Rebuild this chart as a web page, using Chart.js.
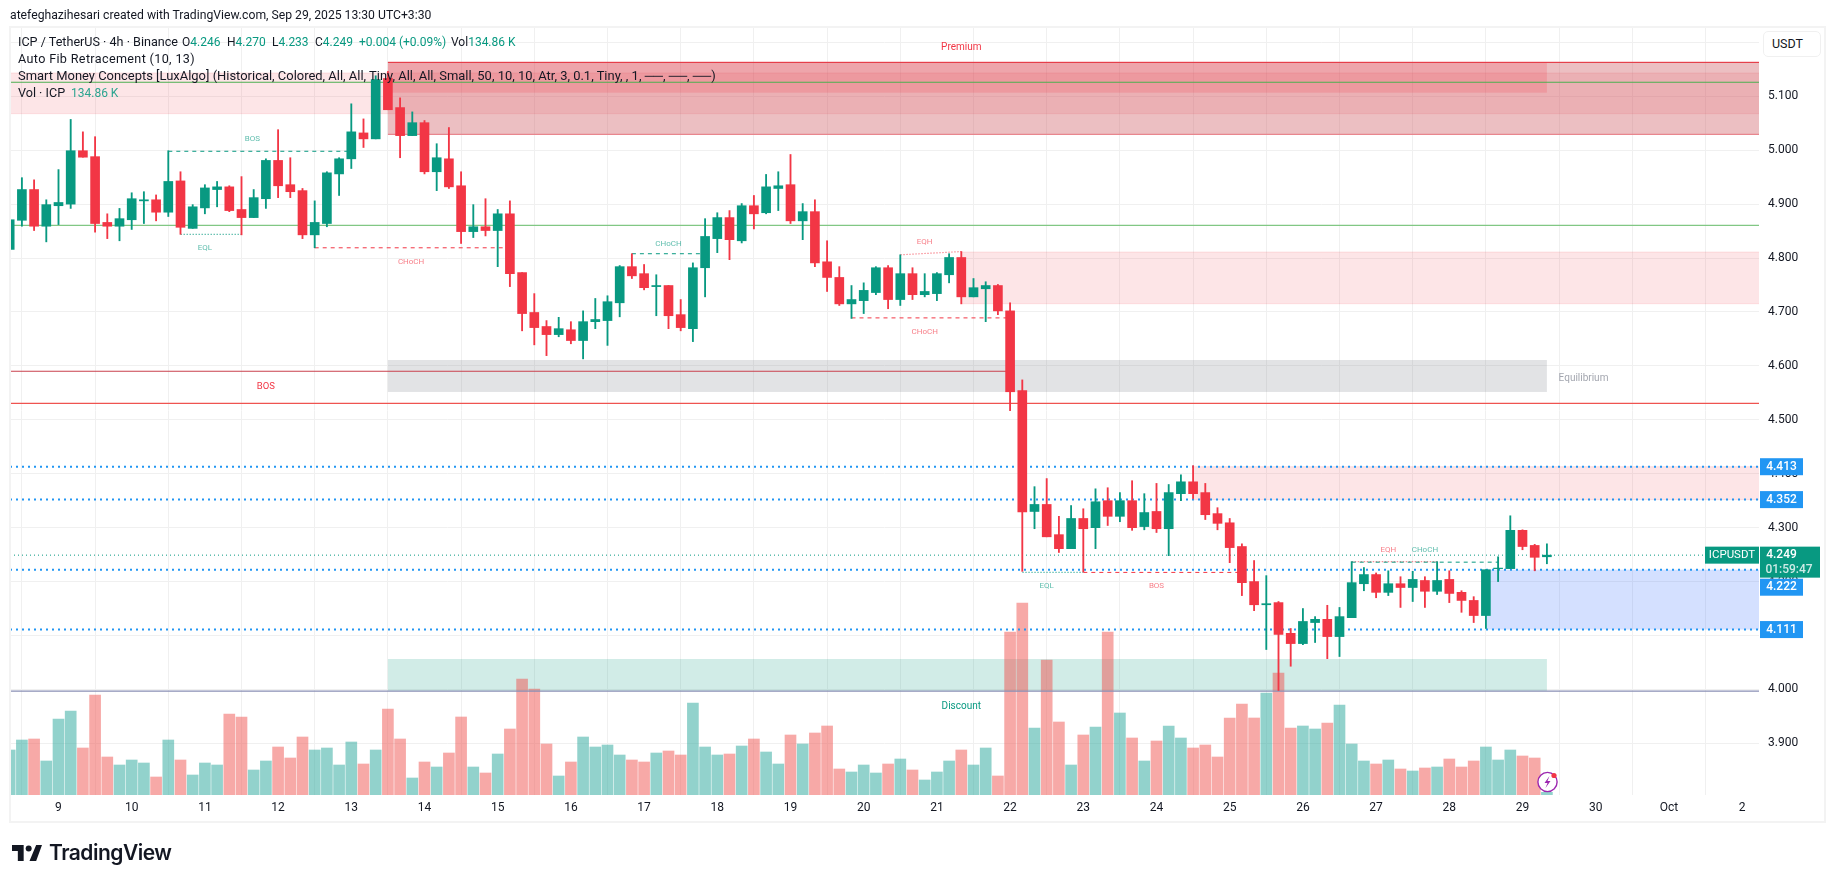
<!DOCTYPE html>
<html><head><meta charset="utf-8">
<style>
html,body{margin:0;padding:0;background:#fff;width:1835px;height:883px;overflow:hidden}
#wrap{position:relative;width:1835px;height:883px}
canvas{position:absolute;left:0;top:0}
.t{position:absolute;white-space:pre;font-family:Roboto,sans-serif;font-size:12.6px;color:#131722;line-height:16px}
.n{font-size:12px}
.g{color:#089981}
#pane{position:absolute;left:9px;top:26px;width:1817px;height:797px;box-sizing:border-box;border:2px solid #f3f3f3;pointer-events:none}
#usdt{position:absolute;left:1763px;top:31px;width:58px;height:26px;box-sizing:border-box;border:1.5px solid #f0f0f0;border-radius:5px;background:#fff;font:12.5px/24px Roboto,sans-serif;color:#131722;padding-left:8px}
</style>
<script src="https://cdn.jsdelivr.net/npm/chart.js@4"></script></head>
<body><div id="wrap">
<canvas id="c" width="1835" height="883"></canvas>
<div id="pane"></div>
<div id="usdt">USDT</div>
<div class="t" style="left:10px;top:7px;font-size:12.2px">atefeghazihesari created with TradingView.com, Sep 29, 2025 13:30 UTC+3:30</div>
<div class="t" style="left:18px;top:34px">ICP / TetherUS · 4h · Binance</div>
<div class="t n" style="left:182px;top:34px">O<span class="g">4.246</span></div>
<div class="t n" style="left:227px;top:34px">H<span class="g">4.270</span></div>
<div class="t n" style="left:272px;top:34px">L<span class="g">4.233</span></div>
<div class="t n" style="left:315px;top:34px">C<span class="g">4.249</span></div>
<div class="t n g" style="left:359px;top:34px">+0.004 (+0.09%)</div>
<div class="t n" style="left:451px;top:34px">Vol<span class="g">134.86 K</span></div>
<div class="t" style="left:18px;top:51px;letter-spacing:.35px">Auto Fib Retracement (10, 13)</div>
<div class="t" style="left:18px;top:68px;font-size:12.95px">Smart Money Concepts [LuxAlgo] (Historical, Colored, All, All, Tiny, All, All, Small, 50, 10, 10, Atr, 3, 0.1, Tiny, , 1, ──, ──, ──)</div>
<div class="t" style="left:18px;top:85px">Vol · ICP</div>
<div class="t n g" style="left:71px;top:85px;opacity:.85">134.86 K</div>
<svg style="position:absolute;left:12px;top:845px" width="30" height="16" viewBox="0 0 36 19"><path fill="#131722" d="M14 0H0v7h7v12h7V0zM29 19h-8L29 0h7l-7 19z"/><circle cx="20" cy="4" r="3.6" fill="#131722"/></svg>
<div style="position:absolute;left:49px;top:841px;font:600 21px/24px Inter,Roboto,sans-serif;color:#131722;letter-spacing:-.5px">TradingView</div>
<svg style="position:absolute;left:1536px;top:770px" width="24" height="24" viewBox="0 0 24 24"><circle cx="11.5" cy="12" r="9.6" fill="#fff" stroke="#9c27b0" stroke-width="1.4"/><path fill="#9c27b0" d="M13.5 6l-5 7h3l-2 5 5-7h-3z"/><circle cx="18" cy="5.5" r="2.6" fill="#f23645"/></svg>
</div>
<script>
const firstBar=-4;
const opens=[4.816,4.870,4.927,4.859,4.897,4.900,4.999,4.988,4.866,4.859,4.871,4.906,4.908,4.885,4.943,4.855,4.893,4.927,4.932,4.890,4.875,4.910,4.981,4.936,4.925,4.843,4.864,4.956,4.984,5.032,5.021,5.133,5.079,5.027,5.051,4.960,4.984,4.934,4.849,4.858,4.851,4.882,4.773,4.699,4.673,4.658,4.667,4.647,4.682,4.684,4.717,4.784,4.771,4.747,4.749,4.695,4.669,4.782,4.836,4.875,4.832,4.897,4.884,4.929,4.936,4.869,4.886,4.793,4.764,4.715,4.721,4.736,4.782,4.723,4.771,4.732,4.734,4.769,4.801,4.728,4.743,4.749,4.702,4.554,4.330,4.343,4.287,4.261,4.317,4.300,4.350,4.321,4.350,4.302,4.330,4.298,4.363,4.385,4.365,4.326,4.309,4.265,4.200,4.157,4.161,4.104,4.085,4.124,4.130,4.098,4.133,4.196,4.213,4.180,4.196,4.189,4.202,4.182,4.204,4.180,4.165,4.137,4.224,4.224,4.295,4.267,4.246];
const highs=[4.871,4.949,4.945,4.908,4.964,5.057,5.034,5.025,4.882,4.892,4.921,4.923,4.917,4.999,4.960,4.899,4.936,4.942,4.934,4.951,4.927,4.984,5.038,4.986,4.929,4.906,4.960,4.986,5.086,5.058,5.138,5.146,5.097,5.071,5.055,5.012,5.042,4.960,4.899,4.910,4.890,4.906,4.773,4.734,4.684,4.690,4.682,4.702,4.725,4.730,4.786,4.808,4.788,4.769,4.749,4.723,4.791,4.873,4.884,4.888,4.901,4.916,4.955,4.960,4.992,4.901,4.908,4.832,4.784,4.749,4.754,4.784,4.786,4.806,4.782,4.771,4.773,4.808,4.812,4.762,4.756,4.751,4.717,4.574,4.376,4.391,4.321,4.341,4.335,4.372,4.374,4.365,4.387,4.363,4.382,4.380,4.398,4.415,4.382,4.337,4.317,4.270,4.239,4.211,4.163,4.113,4.150,4.135,4.156,4.152,4.237,4.226,4.216,4.220,4.209,4.219,4.209,4.237,4.220,4.183,4.172,4.222,4.246,4.322,4.296,4.269,4.270];
const lows=[4.816,4.859,4.851,4.830,4.862,4.892,4.987,4.848,4.836,4.832,4.853,4.864,4.869,4.877,4.844,4.855,4.882,4.895,4.886,4.843,4.875,4.892,4.912,4.912,4.836,4.819,4.858,4.916,4.966,5.005,5.021,5.075,4.986,5.027,4.956,4.925,4.929,4.827,4.838,4.841,4.784,4.747,4.665,4.639,4.619,4.654,4.641,4.613,4.669,4.638,4.691,4.762,4.741,4.693,4.669,4.665,4.645,4.728,4.810,4.797,4.828,4.854,4.882,4.888,4.864,4.834,4.784,4.738,4.712,4.688,4.697,4.732,4.706,4.712,4.723,4.728,4.721,4.754,4.715,4.728,4.682,4.695,4.517,4.219,4.298,4.283,4.254,4.261,4.218,4.261,4.304,4.311,4.295,4.296,4.291,4.248,4.350,4.354,4.315,4.296,4.235,4.174,4.146,4.074,3.998,4.043,4.083,4.087,4.057,4.061,4.133,4.183,4.170,4.174,4.152,4.163,4.152,4.176,4.161,4.143,4.124,4.113,4.200,4.224,4.259,4.220,4.233];
const closes=[4.871,4.927,4.859,4.899,4.903,4.999,4.987,4.864,4.859,4.873,4.910,4.908,4.885,4.942,4.857,4.895,4.930,4.932,4.888,4.875,4.912,4.981,4.934,4.923,4.843,4.866,4.958,4.984,5.034,5.021,5.131,5.075,5.027,5.051,4.960,4.986,4.932,4.849,4.858,4.851,4.882,4.771,4.697,4.671,4.658,4.669,4.647,4.682,4.686,4.719,4.784,4.767,4.745,4.749,4.693,4.671,4.782,4.840,4.875,4.834,4.897,4.882,4.932,4.934,4.869,4.886,4.791,4.764,4.715,4.723,4.740,4.782,4.723,4.771,4.732,4.738,4.771,4.801,4.728,4.745,4.749,4.702,4.552,4.329,4.343,4.283,4.261,4.317,4.298,4.348,4.321,4.350,4.300,4.328,4.298,4.365,4.385,4.363,4.324,4.308,4.263,4.198,4.157,4.159,4.102,4.085,4.126,4.130,4.098,4.135,4.198,4.213,4.180,4.196,4.189,4.204,4.182,4.202,4.178,4.165,4.137,4.222,4.225,4.295,4.265,4.245,4.249];
const volumesK=[2250,2750,2800,1700,3800,4200,2350,5000,1900,1500,1750,1600,900,2750,1750,1000,1600,1500,4050,3900,1250,1700,2400,1850,2900,2250,2350,1500,2650,1550,2250,4300,2800,850,1650,1400,2100,3900,1400,1100,2050,3300,5800,5300,2550,950,1650,2900,2400,2500,2000,1750,1650,2100,2200,2000,4600,2400,2000,2050,2450,2800,2150,1550,3000,2550,3100,3450,1300,1150,1500,1100,1550,1800,1250,750,1150,1700,2250,1500,2350,950,8150,9600,3350,6750,3650,1500,3000,3400,8150,4100,2850,1700,2700,3450,2850,2350,2500,1900,3850,4550,3850,5100,6100,3350,3450,3300,3600,4500,2550,1700,1550,1750,1300,1200,1350,1400,1800,1400,1700,2400,1750,2250,1950,1850,134.86];
const priceTicks=[3.9,4.0,4.1,4.2,4.3,4.4,4.5,4.6,4.7,4.8,4.9,5.0,5.1,5.2];
const dayBars=[0,6,12,18,24,30,36,42,48,54,60,66,72,78,84,90,96,102,108,114,120,126,132,138];
const dayLabels=['9','10','11','12','13','14','15','16','17','18','19','20','21','22','23','24','25','26','27','28','29','30','Oct','2'];
const fibLevels=[4.413,4.352,4.222,4.111];
const lastPrice=4.249;
const xMin=-3.975,xMax=139.385,yMin=3.8042,yMax=5.2303,volMax=38450;

// zones: start bar, end bar, top price, bottom price
const zoneStart=[xMin,27,27,74,93,117,27,27];
const zoneEnd=[xMax,xMax,122,xMax,xMax,xMax,122,122];
const zoneTop=[5.1432,5.163,5.163,4.8112,4.413,4.222,4.6109,4.0564];
const zoneBottom=[5.0677,5.0295,5.1066,4.7153,4.352,4.111,4.5516,3.997];
const zoneFill=['rgba(242,54,69,.13)','rgba(208,95,102,.4)','rgba(242,54,69,.19)','rgba(242,54,69,.13)','rgba(242,54,69,.13)','rgba(41,98,255,.2)','rgba(120,123,134,.21)','rgba(8,153,129,.19)'];

// structure lines
const solidPrice=[5.126,4.8607,4.59,4.5306,3.997];
const solidStart=[xMin,xMin,xMin,xMin,xMin];
const solidEnd=[xMax,xMax,78,xMax,xMax];
const solidColor=['#4caf50','#81c784','#c9404c','#ef5350','#8a8fb5'];
const dashStart=[9,21,47,65,84,106];
const dashEnd=[24,37,53,78,97,118];
const dashPrice=[4.998,4.819,4.808,4.689,4.217,4.236];
const dashColor=['#089981','#f23645','#089981','#f23645','#f23645','#089981'];
const eqStart=[10,69,79,106];
const eqEnd=[15,74,84,113];
const eqPriceA=[4.844,4.806,4.217,4.237];
const eqPriceB=[4.844,4.812,4.217,4.237];
const eqColor=['rgba(8,153,129,.6)','rgba(242,54,69,.55)','rgba(8,153,129,.6)','rgba(242,54,69,.55)'];

// chart text
const noteText=['BOS','EQL','CHoCH','CHoCH','EQH','CHoCH','Premium','EQL','BOS','EQH','CHoCH','Discount','Equilibrium','BOS'];
const noteBar=[15.9,12,28.9,50,71,71,74,81,90,109,112,74,125,17];
const notePrice=[5.020,4.819,4.793,4.826,4.830,4.663,5.190,4.192,4.192,4.258,4.258,3.968,4.577,4.561];
const noteColor=['rgba(8,153,129,.65)','rgba(8,153,129,.65)','rgba(242,54,69,.65)','rgba(8,153,129,.65)','rgba(242,54,69,.65)','rgba(242,54,69,.65)','#f23645','rgba(8,153,129,.65)','rgba(242,54,69,.65)','rgba(242,54,69,.65)','rgba(8,153,129,.65)','#089981','#a3a6af','#f23645'];
const noteSize=[8,8,8,8,8,8,10,8,8,8,8,10,10,9.5];

const GREEN='#089981',RED='#f23645',BLUE='#2196f3';
const barIdx=opens.map((_,i)=>i+firstBar);
const up=opens.map((o,i)=>closes[i]>=o);
const line=(a,b,pa,pb,color,width,dash,order)=>({type:'line',data:[{x:a,y:pa},{x:b,y:pb}],borderColor:color,borderWidth:width,borderDash:dash||[],pointRadius:0,tension:0,order,xAxisID:'x',yAxisID:'y',parsing:true});
const datasets=[];
datasets.push({type:'bar',yAxisID:'y',xAxisID:'x',order:1,grouped:false,barThickness:9,borderWidth:0,
  data:barIdx.map((x,i)=>({x,y:[opens[i],closes[i]]})),backgroundColor:up.map(u=>u?GREEN:RED)});
datasets.push({type:'bar',yAxisID:'y',xAxisID:'x',order:2,grouped:false,barThickness:1.2,borderWidth:0,
  data:barIdx.map((x,i)=>({x,y:[lows[i],highs[i]]})),backgroundColor:up.map(u=>u?GREEN:RED)});
fibLevels.forEach(p=>datasets.push(line(xMin,xMax,p,p,BLUE,2,[2,4],3)));
datasets.push(line(xMin,xMax,lastPrice,lastPrice,GREEN,1,[1,3],3));
solidPrice.forEach((p,i)=>datasets.push(line(solidStart[i],solidEnd[i],p,p,solidColor[i],1.2,[],4)));
dashPrice.forEach((p,i)=>datasets.push(line(dashStart[i],dashEnd[i],p,p,dashColor[i],1,[4,4],4)));
eqPriceA.forEach((p,i)=>datasets.push(line(eqStart[i],eqEnd[i],p,eqPriceB[i],eqColor[i],1.2,[1.5,1.5],4)));
datasets.push({type:'bar',yAxisID:'v',xAxisID:'x',order:9,grouped:false,barThickness:11,borderWidth:0,
  data:barIdx.map((x,i)=>({x,y:volumesK[i]})),backgroundColor:up.map(u=>u?'rgba(38,166,154,.5)':'rgba(239,83,80,.5)')});

const overlay={id:'overlay',
  beforeDatasetsDraw(ch){
    const {ctx,scales:{x,y},chartArea:a}=ch;
    ctx.save();ctx.beginPath();ctx.rect(a.left,a.top,a.right-a.left,a.bottom-a.top);ctx.clip();
    zoneFill.forEach((c,i)=>{
      const x0=x.getPixelForValue(zoneStart[i]),x1=x.getPixelForValue(zoneEnd[i]);
      const y0=y.getPixelForValue(zoneTop[i]),y1=y.getPixelForValue(zoneBottom[i]);
      ctx.fillStyle=c;ctx.fillRect(x0,y0,x1-x0,y1-y0);
      if(i===1){ctx.fillStyle='#e5404b';ctx.fillRect(x0,y0-.5,x1-x0,1.2);ctx.fillStyle='#e8848c';ctx.fillRect(x0,y1-.5,x1-x0,1.2);}
      if(i===0||i===3||i===4){ctx.fillStyle='rgba(242,54,69,.12)';ctx.fillRect(x0,y0-.5,x1-x0,1);ctx.fillRect(x0,y1-.5,x1-x0,1);}
    });
    ctx.restore();
  },
  afterDraw(ch){
    const {ctx,scales:{x,y}}=ch;
    ctx.save();
    ctx.textAlign='center';ctx.textBaseline='middle';
    noteText.forEach((t,i)=>{
      ctx.font=noteSize[i]+'px Roboto,sans-serif';ctx.fillStyle=noteColor[i];
      ctx.fillText(t,x.getPixelForValue(noteBar[i]),y.getPixelForValue(notePrice[i]));
    });
    // price tags
    const R=y.left+1;
    const tag=(txt,py,bg)=>{
      ctx.fillStyle=bg;ctx.fillRect(R,py-8.5,43,17);
      ctx.fillStyle='#fff';ctx.font='500 12px Roboto,sans-serif';ctx.fillText(txt,R+21.5,py);
    };
    fibLevels.forEach(p=>{
      const py=y.getPixelForValue(p);
      tag(p.toFixed(3),p===4.222?py+17.5:py,BLUE);
    });
    const py=y.getPixelForValue(lastPrice);
    ctx.fillStyle=GREEN;ctx.fillRect(R,py-8.5,60,31);
    ctx.fillRect(R-55,py-8.5,54,17);
    ctx.fillStyle='#fff';ctx.font='500 12px Roboto,sans-serif';
    ctx.fillText(lastPrice.toFixed(3),R+21.5,py);
    ctx.font='400 11.5px Roboto,sans-serif';
    ctx.fillText('ICPUSDT',R-28,py);
    ctx.font='500 12px Roboto,sans-serif';
    ctx.fillStyle='rgba(255,255,255,.8)';ctx.fillText('01:59:47',R+29,py+14.5);
    ctx.restore();
  }};

new Chart(document.getElementById('c'),{
  type:'bar',
  data:{datasets},
  plugins:[overlay],
  options:{
    responsive:false,animation:false,devicePixelRatio:1,
    layout:{padding:{left:10,top:26,right:10,bottom:61}},
    plugins:{legend:{display:false},tooltip:{enabled:false}},
    scales:{
      x:{type:'linear',min:xMin,max:xMax,offset:false,
        afterBuildTicks(s){s.ticks=dayBars.map(value=>({value}));},
        afterFit(s){s.height=27;},
        grid:{color:'#f0f0f0',drawTicks:false,lineWidth:1},border:{display:false},
        ticks:{autoSkip:false,maxRotation:0,padding:6,color:'#131722',font:{family:'Roboto',size:12},
          callback(v){const k=dayBars.indexOf(v);return k<0?'':dayLabels[k];}}},
      y:{type:'linear',position:'right',min:yMin,max:yMax,
        afterBuildTicks(s){s.ticks=priceTicks.map(value=>({value}));},
        afterFit(s){s.width=66;},
        grid:{color:'#f0f0f0',drawTicks:false,lineWidth:1},border:{display:false},
        ticks:{autoSkip:false,padding:9,color:'#131722',font:{family:'Roboto',size:12},
          callback(v){return Number(v).toFixed(3);}}},
      v:{type:'linear',display:false,min:0,max:volMax}
    }
  }
});
</script></body></html>
